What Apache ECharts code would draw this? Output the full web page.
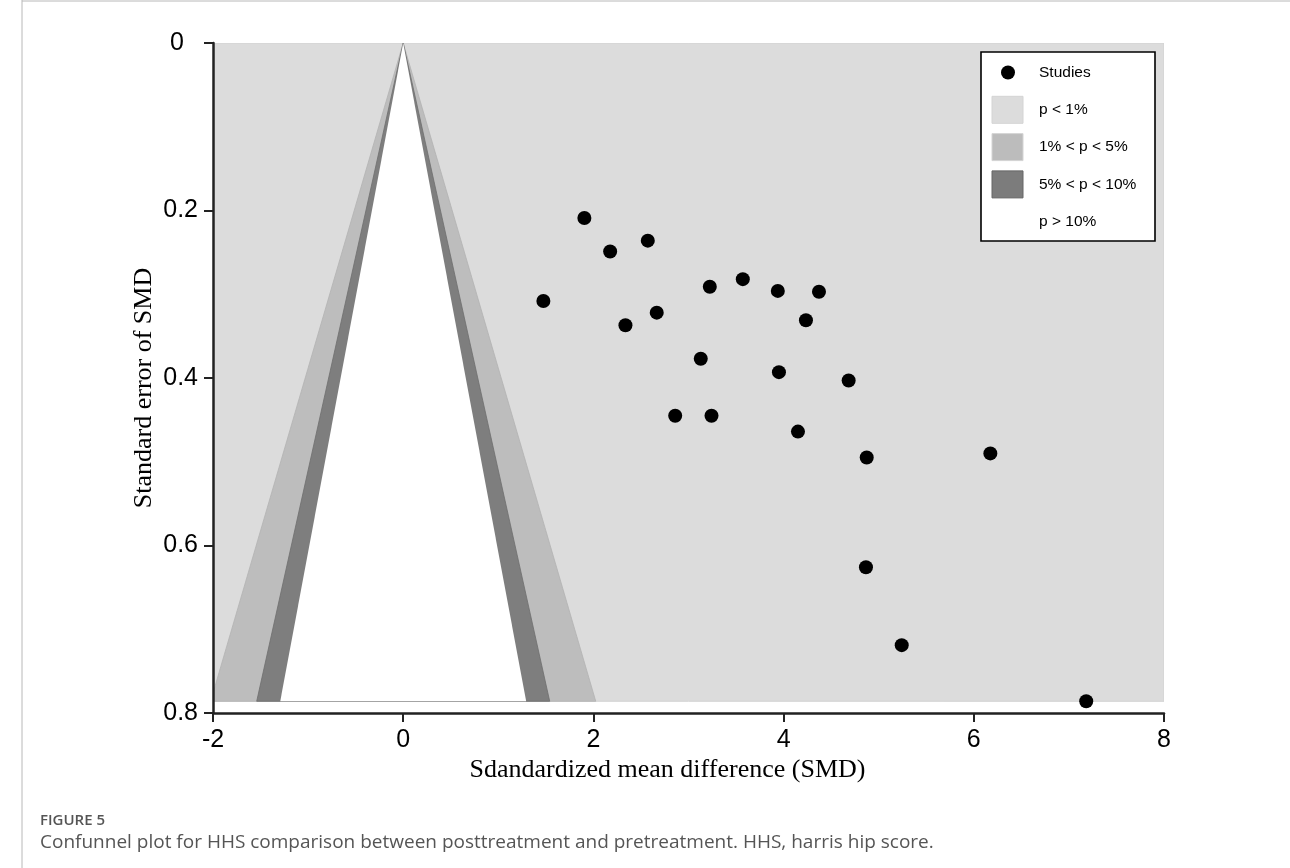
<!DOCTYPE html>
<html>
<head>
<meta charset="utf-8">
<title>Contour-enhanced funnel plot</title>
<script src="https://cdn.jsdelivr.net/npm/echarts@6/dist/echarts.min.js"></script>
<style>
  html, body { margin: 0; padding: 0; background: #fff; }
  #chart { width: 1290px; height: 868px; }
</style>
</head>
<body>
<div id="chart"></div>
<script>
// study estimates
const smd = [1.905, 2.176, 2.572, 1.474, 2.337, 2.666, 3.224, 3.571, 3.939, 4.372, 4.235,
             3.129, 3.951, 4.684, 2.860, 3.242, 4.151, 4.874, 6.174, 4.866, 5.242, 7.182];
const se  = [0.209, 0.249, 0.236, 0.308, 0.337, 0.322, 0.291, 0.282, 0.296, 0.297, 0.331,
             0.377, 0.393, 0.403, 0.445, 0.445, 0.464, 0.495, 0.490, 0.626, 0.719, 0.786];

// contour levels (two-sided z for p = 1%, 5%, 10%)
const zLevels = [2.576, 1.96, 1.645];
const xTicks = [-2, 0, 2, 4, 6, 8];
const yTicks = [0, 0.2, 0.4, 0.6, 0.8];

const legendLabels = ['Studies', 'p < 1%', '1% < p < 5%', '5% < p < 10%', 'p > 10%'];
const bandColors = ['#bdbdbd', '#7e7e7e', '#ffffff'];
const bgColor = '#dcdcdc';

const seMax = Math.max(...se);
const points = smd.map((v, i) => [v, se[i]]);

const chart = echarts.init(document.getElementById('chart'));

function renderBackground(params, api) {
  const tl = api.coord([xTicks[0], 0]);
  const br = api.coord([xTicks[xTicks.length - 1], seMax]);
  return {
    type: 'rect',
    shape: { x: tl[0], y: tl[1], width: br[0] - tl[0], height: br[1] - tl[1] },
    style: { fill: bgColor, stroke: '#d2d2d2', lineWidth: 1 }
  };
}

function renderBand(params, api) {
  const z = api.value(0);
  const apex = api.coord([0, 0]);
  const r = api.coord([z * seMax, seMax]);
  const l = api.coord([-z * seMax, seMax]);
  const i = params.dataIndex;
  return {
    type: 'polygon',
    shape: { points: [apex, r, l] },
    style: {
      fill: bandColors[i],
      stroke: i === 2 ? null : (i === 0 ? '#b2b2b2' : '#6e6e6e'),
      lineWidth: 0.8
    }
  };
}

const axisFont = { fontFamily: '"Liberation Sans", Arial, sans-serif', fontSize: 25, color: '#000' };
const titleFont = { fontFamily: '"Liberation Serif", "Times New Roman", serif', fontSize: 26, color: '#000' };

// legend drawn as graphic elements
const lx = 981, ly = 52, rowH = 37.3;
const legendItems = [{
  type: 'rect', z: 100,
  shape: { x: lx, y: ly, width: 174, height: 189 },
  style: { fill: '#fff', stroke: '#000', lineWidth: 1.6 }
}];
const legendFills = [null, bgColor, '#bcbcbc', '#7c7c7c', '#ffffff'];
legendLabels.forEach((lab, i) => {
  const cy = ly + 20.5 + i * rowH;
  if (i === 0) {
    legendItems.push({ type: 'circle', z: 101, shape: { cx: lx + 27, cy: cy, r: 7 }, style: { fill: '#000' } });
  } else if (i < 4) {
    legendItems.push({
      type: 'rect', z: 101,
      shape: { x: lx + 11, y: cy - 13.5, width: 31, height: 27 },
      style: { fill: legendFills[i], stroke: i === 3 ? '#666' : '#d4d4d4', lineWidth: 1 }
    });
  }
  legendItems.push({
    type: 'text', z: 101,
    style: {
      text: lab, x: lx + 58, y: cy, verticalAlign: 'middle',
      font: '15.5px "Liberation Sans", Arial, sans-serif', fill: '#000'
    }
  });
});

chart.setOption({
  animation: false,
  backgroundColor: '#fff',
  grid: { left: 213, right: 126, top: 43, bottom: 155, containLabel: false },
  xAxis: {
    type: 'value',
    z: 10,
    min: -2, max: 8, interval: 2,
    name: 'Sdandardized mean difference (SMD)',
    nameLocation: 'middle',
    nameGap: 44,
    nameMoveOverlap: false,
    nameTextStyle: Object.assign({}, titleFont, { padding: [0, 42, 0, 0] }),
    axisLine: { show: true, onZero: false, lineStyle: { color: '#222', width: 2.5 } },
    axisTick: { show: true, length: 9, lineStyle: { color: '#222', width: 2 } },
    axisLabel: Object.assign({}, axisFont, { margin: 15 }),
    splitLine: { show: false }
  },
  yAxis: {
    type: 'value',
    z: 10,
    inverse: true,
    min: 0, max: 0.8, interval: 0.2,
    name: 'Standard error of SMD',
    nameLocation: 'middle',
    nameGap: 56,
    nameMoveOverlap: false,
    nameTextStyle: Object.assign({}, titleFont, { padding: [0, 20, 0, 0] }),
    axisLine: { show: true, onZero: false, lineStyle: { color: '#222', width: 2.5 } },
    axisTick: { show: true, length: 9, lineStyle: { color: '#222', width: 2 } },
    axisLabel: Object.assign({}, axisFont, {
      margin: 15,
      formatter: v => {
        const t = +v.toFixed(1);
        if (yTicks.indexOf(t) < 0) return '';
        return t === 0 ? '{z|0}' : String(t);
      },
      rich: { z: Object.assign({}, axisFont, { padding: [0, 14, 0, 0] }) }
    }),
    splitLine: { show: false }
  },
  series: [
    {
      name: 'p < 1%',
      type: 'custom',
      renderItem: renderBackground,
      data: [[0]],
      clip: true,
      silent: true,
      z: 1
    },
    {
      name: 'bands',
      type: 'custom',
      renderItem: renderBand,
      data: zLevels.map(z => [z]),
      clip: true,
      silent: true,
      z: 2
    },
    {
      name: 'Studies',
      type: 'scatter',
      data: points,
      symbol: 'circle',
      symbolSize: 14,
      itemStyle: { color: '#000', opacity: 1 },
      z: 5
    }
  ],
  graphic: legendItems.concat([
    { type: 'line', shape: { x1: 22, y1: 0, x2: 22, y2: 868 }, style: { stroke: '#b8b8b8', lineWidth: 1 } },
    { type: 'line', shape: { x1: 22, y1: 1, x2: 1290, y2: 1 }, style: { stroke: '#b8b8b8', lineWidth: 1 } },
    {
      type: 'text', left: 40, top: 813,
      style: { text: 'FIGURE 5', font: '600 15px "Open Sans", sans-serif', fill: '#555' }
    },
    {
      type: 'text', left: 40, top: 833,
      style: {
        text: 'Confunnel plot for HHS comparison between posttreatment and pretreatment. HHS, harris hip score.',
        font: '19px "Open Sans", sans-serif', fill: '#555'
      }
    }
  ])
});
</script>
</body>
</html>
